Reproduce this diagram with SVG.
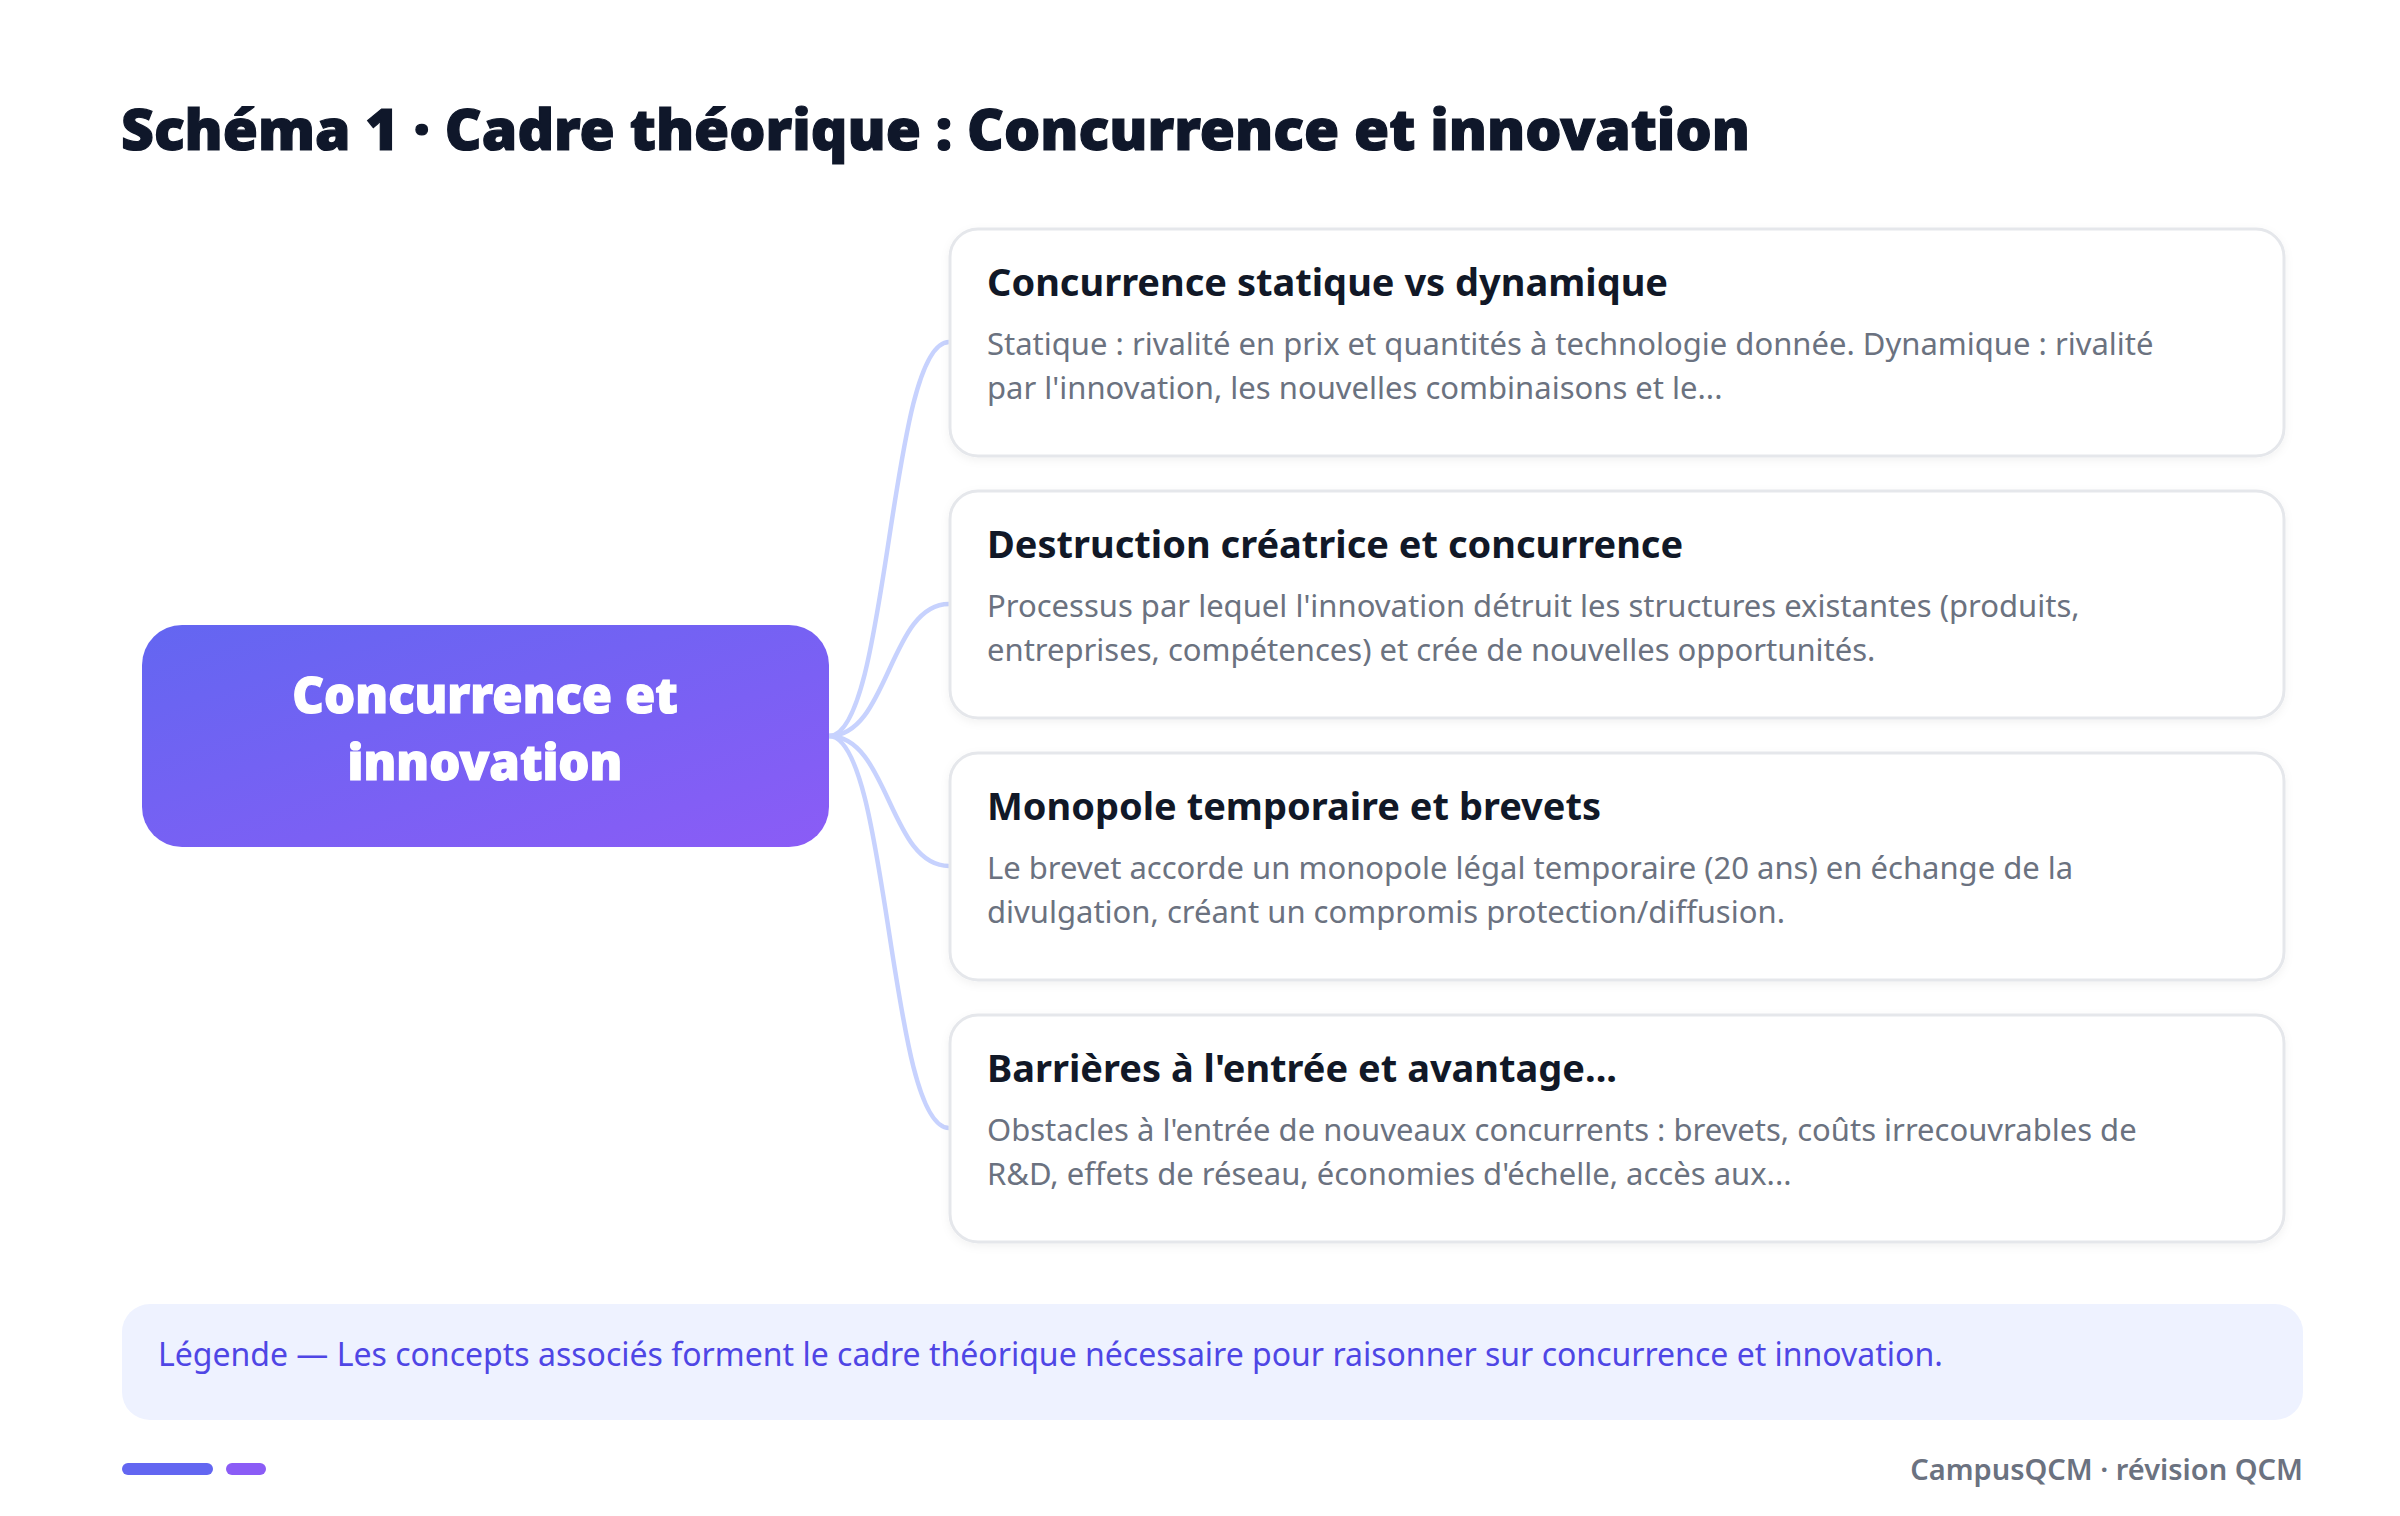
<svg xmlns="http://www.w3.org/2000/svg" width="2400" height="1516" viewBox="0 0 2400 1516">
<defs>
<linearGradient id="hub" x1="0" y1="0" x2="1" y2="1">
<stop offset="0" stop-color="#6366F1"/>
<stop offset="1" stop-color="#8B5CF6"/>
</linearGradient>
<filter id="sh" x="-5%" y="-10%" width="110%" height="125%">
<feDropShadow dx="0" dy="3" stdDeviation="4" flood-color="#0F172A" flood-opacity="0.05"/>
</filter>
<style>
.title{font-family:"Noto Sans","Open Sans",sans-serif;font-weight:900;font-size:57px;fill:#0F172A;stroke:#0F172A;stroke-width:1.2px}
.hubt{font-family:"Noto Sans","Open Sans",sans-serif;font-weight:900;font-size:49px;fill:#FFFFFF;stroke:#FFFFFF;stroke-width:1.2px}
.card{fill:#FFFFFF;stroke:#E5E7EB;stroke-width:3}
.ct{font-family:"Noto Sans","Open Sans",sans-serif;font-weight:700;font-size:38px;fill:#111827}
.cd{font-family:"Noto Sans","Open Sans",sans-serif;font-weight:400;font-size:31px;fill:#6B7280}
.conn{fill:none;stroke:#C7D2FE;stroke-width:4.5;stroke-linecap:round}
.leg{font-family:"Noto Sans","Open Sans",sans-serif;font-size:32px;fill:#4F46E5}
.foot{font-family:"Noto Sans","Open Sans",sans-serif;font-weight:600;font-size:29px;fill:#6B7280}
</style>
</defs>
<rect width="2400" height="1516" fill="#FFFFFF"/>
<text class="title" x="121" y="150">Schéma 1 · Cadre théorique : Concurrence et innovation</text>
<g id="connectors">
<path class="conn" d="M829,736 C889,736 889,342 949,342"/>
<path class="conn" d="M829,736 C889,736 889,604 949,604"/>
<path class="conn" d="M829,736 C889,736 889,866 949,866"/>
<path class="conn" d="M829,736 C889,736 889,1128 949,1128"/>
</g>
<g id="hub-node">
<rect x="142" y="625" width="687" height="222" rx="40" fill="url(#hub)"/>
<text class="hubt" x="485" y="713" text-anchor="middle">Concurrence et</text>
<text class="hubt" x="485" y="780" text-anchor="middle">innovation</text>
</g>
<g id="card-1">
<rect class="card" x="950" y="229" width="1334" height="227" rx="28" filter="url(#sh)"/>
<text class="ct" x="987" y="296">Concurrence statique vs dynamique</text>
<text class="cd" x="987" y="355">Statique : rivalité en prix et quantités à technologie donnée. Dynamique : rivalité</text>
<text class="cd" x="987" y="399">par l'innovation, les nouvelles combinaisons et le...</text>
</g>
<g id="card-2">
<rect class="card" x="950" y="491" width="1334" height="227" rx="28" filter="url(#sh)"/>
<text class="ct" x="987" y="558">Destruction créatrice et concurrence</text>
<text class="cd" x="987" y="617">Processus par lequel l'innovation détruit les structures existantes (produits,</text>
<text class="cd" x="987" y="661">entreprises, compétences) et crée de nouvelles opportunités.</text>
</g>
<g id="card-3">
<rect class="card" x="950" y="753" width="1334" height="227" rx="28" filter="url(#sh)"/>
<text class="ct" x="987" y="820">Monopole temporaire et brevets</text>
<text class="cd" x="987" y="879">Le brevet accorde un monopole légal temporaire (20 ans) en échange de la</text>
<text class="cd" x="987" y="923">divulgation, créant un compromis protection/diffusion.</text>
</g>
<g id="card-4">
<rect class="card" x="950" y="1015" width="1334" height="227" rx="28" filter="url(#sh)"/>
<text class="ct" x="987" y="1082">Barrières à l'entrée et avantage...</text>
<text class="cd" x="987" y="1141">Obstacles à l'entrée de nouveaux concurrents : brevets, coûts irrecouvrables de</text>
<text class="cd" x="987" y="1185">R&amp;D, effets de réseau, économies d'échelle, accès aux...</text>
</g>
<g id="legend">
<rect x="122" y="1304" width="2181" height="116" rx="28" fill="#EEF2FF"/>
<text class="leg" x="158" y="1366">Légende — Les concepts associés forment le cadre théorique nécessaire pour raisonner sur concurrence et innovation.</text>
</g>
<g id="footer">
<rect x="122" y="1463" width="91" height="12" rx="6" fill="#6366F1"/>
<rect x="226" y="1463" width="40" height="12" rx="6" fill="#8B5CF6"/>
<text class="foot" x="2303" y="1480" text-anchor="end">CampusQCM · révision QCM</text>
</g>
</svg>
